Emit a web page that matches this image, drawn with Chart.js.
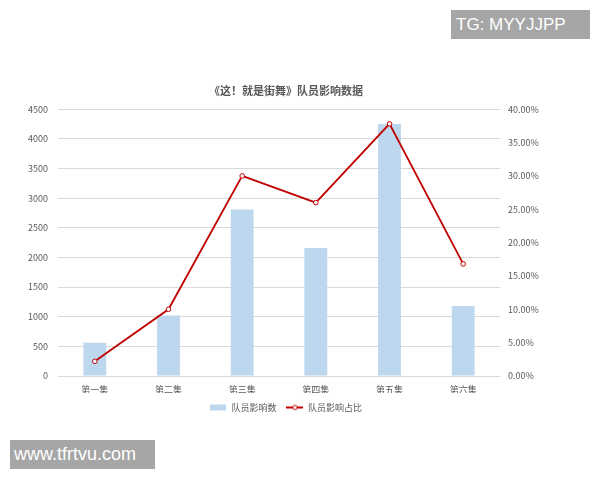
<!DOCTYPE html>
<html>
<head>
<meta charset="utf-8">
<script src="https://cdn.jsdelivr.net/npm/chart.js@4"></script>
<style>
html,body{margin:0;padding:0;background:#fff;}
#wrap{position:relative;width:600px;height:480px;}
canvas{position:absolute;left:0;top:0;}
.wm{position:absolute;background:#a6a6a6;color:#fff;font-family:"Liberation Sans",Arial,sans-serif;white-space:nowrap;}
</style>
</head>
<body>
<div id="wrap">
<canvas id="c" width="600" height="480"></canvas>
<div class="wm" style="left:451px;top:10px;width:139px;height:29px;font-size:17px;line-height:29px;padding-left:5px;box-sizing:border-box;">TG: MYYJJPP</div>
<div class="wm" style="left:10px;top:440px;width:145px;height:29px;font-size:18px;line-height:29px;padding-left:4px;box-sizing:border-box;">www.tfrtvu.com</div>
</div>
<script>
const categories = ['第一集','第二集','第三集','第四集','第五集','第六集'];
const memberCounts = [560, 1020, 2810, 2160, 4250, 1180];
const memberShare = [2.2, 10.0, 30.0, 26.0, 37.8, 16.8];
const leftTicks = [0,500,1000,1500,2000,2500,3000,3500,4000,4500];
const rightTicks = [0,5,10,15,20,25,30,35,40];

const grey = '#595959';
Chart.defaults.font.family = '"Noto Sans CJK SC", "Noto Sans", sans-serif';
Chart.defaults.color = grey;

function makeIcon(kind){
  const cv = document.createElement('canvas');
  cv.width = 17; cv.height = 8;
  const g = cv.getContext('2d');
  if(kind==='bar'){
    g.fillStyle = '#bdd7ee';
    g.fillRect(0,1,16,6);
  } else {
    g.strokeStyle = '#c00000';
    g.lineWidth = 2;
    g.beginPath(); g.moveTo(0,4); g.lineTo(17,4); g.stroke();
    g.fillStyle = '#fff';
    g.lineWidth = 1;
    g.beginPath(); g.arc(8.5,4,2.2,0,Math.PI*2); g.fill(); g.stroke();
  }
  return cv;
}
const barIcon = makeIcon('bar');
const lineIcon = makeIcon('line');

new Chart(document.getElementById('c'), {
  data: {
    labels: categories,
    datasets: [
      {
        type: 'line',
        label: '队员影响占比',
        data: memberShare,
        yAxisID: 'y1',
        borderColor: '#c00000',
        backgroundColor: '#ffffff',
        borderWidth: 1.8,
        pointRadius: 2.3,
        pointBorderWidth: 1,
        pointBackgroundColor: '#ffffff',
        pointBorderColor: '#c00000',
        tension: 0,
        order: 0
      },
      {
        type: 'bar',
        label: '队员影响数',
        data: memberCounts,
        yAxisID: 'y',
        backgroundColor: '#bdd7ee',
        barPercentage: 0.31,
        categoryPercentage: 1,
        order: 1
      }
    ]
  },
  options: {
    responsive: false,
    animation: false,
    layout: { padding: { top: 80, left: 0, right: 28, bottom: 58 } },
    plugins: {
      title: {
        display: true,
        text: '《这！就是街舞》队员影响数据',
        color: grey,
        font: { size: 11, weight: 'bold' },
        padding: { top: 4, bottom: 12 }
      },
      legend: {
        position: 'bottom',
        labels: {
          color: grey,
          font: { size: 9 },
          usePointStyle: true,
          pointStyleWidth: 17,
          padding: 10,
          generateLabels(chart){
            return [
              { text: '队员影响数', pointStyle: barIcon, fillStyle: '#bdd7ee', strokeStyle: '#bdd7ee', lineWidth: 0, datasetIndex: 1, fontColor: grey },
              { text: '队员影响占比', pointStyle: lineIcon, fillStyle: '#c00000', strokeStyle: '#c00000', lineWidth: 0, datasetIndex: 0, fontColor: grey }
            ];
          }
        }
      },
      tooltip: { enabled: false }
    },
    scales: {
      x: {
        grid: { display: false, drawTicks: false },
        border: { display: false },
        ticks: { color: grey, font: { size: 9 }, padding: 8 },
        afterFit(s){ s.height = 17; }
      },
      y: {
        position: 'left',
        min: 0, max: 4500,
        afterBuildTicks(s){ s.ticks = leftTicks.map(v => ({value: v})); },
        grid: { color: '#d9d9d9', drawTicks: false, lineWidth: 1 },
        border: { display: false },
        ticks: { color: grey, font: { size: 9 }, padding: 10, callback: v => String(v) },
        afterFit(s){ s.width = 58; }
      },
      y1: {
        position: 'right',
        min: 0, max: 40,
        afterBuildTicks(s){ s.ticks = rightTicks.map(v => ({value: v})); },
        grid: { display: false, drawTicks: false },
        border: { display: false },
        ticks: { color: grey, font: { size: 9 }, padding: 8, callback: v => v.toFixed(2) + '%' },
        afterFit(s){ s.width = 72; }
      }
    }
  }
});
</script>
</body>
</html>
